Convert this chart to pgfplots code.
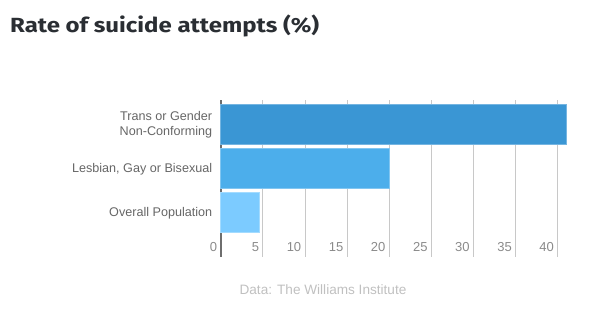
\documentclass[border=0pt]{standalone}
\usepackage{fontspec}
\setmainfont{Liberation Sans}
\newfontfamily\titlefont[FakeStretch=1.17]{Fira Sans}
\usepackage{pgfplots}
\pgfplotsset{compat=1.18}
\definecolor{titlec}{HTML}{2A2E33}
\definecolor{labc}{HTML}{666666}
\definecolor{tickc}{HTML}{8A8A8A}
\definecolor{gridc}{HTML}{C8C8C8}
\definecolor{axc}{HTML}{6E6E6E}
\definecolor{srcc}{HTML}{C0C0C0}
\definecolor{barA}{HTML}{3A96D4}
\definecolor{barB}{HTML}{4CAEEB}
\definecolor{barC}{HTML}{7CCBFF}
\begin{document}
\begin{tikzpicture}[x=1pt,y=1pt]
\useasboundingbox (0,0) rectangle (589,323);
\node[anchor=base west, inner sep=0, text=titlec, font=\titlefont\bfseries\fontsize{20.5}{24}\selectfont] at (10,290) {Rate of suicide attempts (\%)};
\begin{axis}[
  at={(220.7pt,66pt)}, anchor=south west,
  scale only axis, width=345.3pt, height=157pt,
  xmin=0, xmax=41, ymin=-1, ymax=2.56,
  xbar, bar width=40pt, bar shift=0pt,
  axis y line*=left, axis x line*=bottom,
  x axis line style={draw=none},
  y axis line style={draw=axc, line width=1.6pt},
  xtick={0,5,...,40}, ytick={0,1,2},
  yticklabels={Overall Population,{Lesbian, Gay or Bisexual},{Trans or Gender\\Non-Conforming}},
  yticklabel style={align=right, text=labc, font=\fontsize{12.6}{15}\selectfont, xshift=-5pt},
  xticklabel style={anchor=south east, text=tickc, font=\fontsize{13}{15}\selectfont, inner sep=1pt, xshift=-2.5pt, yshift=4pt},
  /pgf/number format/assume math mode=true,
  major tick length=0pt,
  xmajorgrids, grid style={draw=gridc, line width=0.8pt},
  clip=false,
]
\addplot[fill=barA, draw=barA!70!white, line width=0.8pt] coordinates {(41,2)};
\addplot[fill=barB, draw=barB!70!white, line width=0.8pt] coordinates {(20,1)};
\addplot[fill=barC, draw=barC!70!white, line width=0.8pt] coordinates {(4.6,0)};
\end{axis}
\node[anchor=base, inner sep=0, text=srcc, font=\fontsize{13.6}{16}\selectfont] at (323,28) {Data: The Williams Institute};
\end{tikzpicture}
\end{document}
